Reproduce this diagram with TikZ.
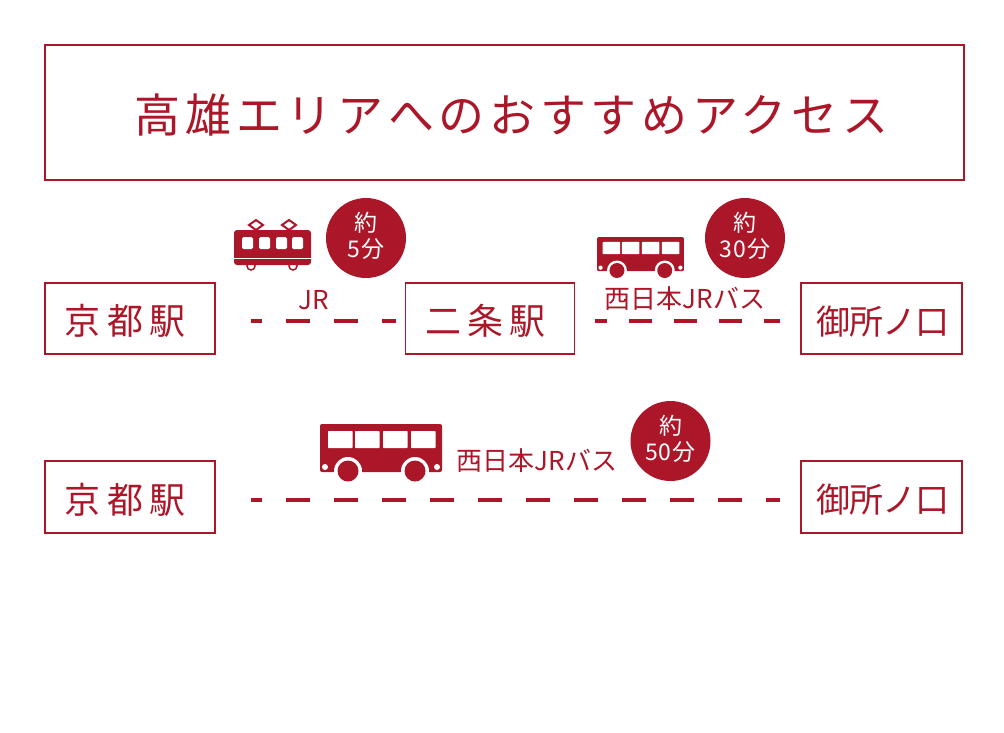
\documentclass[tikz,border=0pt]{standalone}
\usepackage{fontspec}
\setmainfont{Noto Sans CJK JP}
\newfontfamily\titlefont[LetterSpace=10.2]{Noto Sans CJK JP}
\newfontfamily\stationfont[LetterSpace=18]{Noto Sans CJK JP}
\newfontfamily\tightfont[LetterSpace=-3]{Noto Sans CJK JP}
\newfontfamily\badgefont[LetterSpace=5]{Noto Sans CJK JP}
\definecolor{routered}{HTML}{AB1728}
\newcommand{\nudged}[3]{\kern#1\rule{0pt}{#2}#3}
\newcommand{\lowstrut}{\rule[-7pt]{0pt}{7pt}}
\tikzset{
	framebox/.style={draw=routered, line width=1.6pt, text=routered, inner sep=0pt, minimum height=71.5pt, font=\stationfont\fontsize{36}{40}\selectfont},
	timebadge/.style={circle, fill=routered, text=white, inner sep=0pt, minimum size=80pt, align=center, font=\badgefont\fontsize{23}{26}\selectfont},
	linelabel/.style={text=routered, inner sep=0pt, font=\fontsize{26}{30}\selectfont},
	routeline/.style={draw=routered, line width=4pt, dash pattern=on 24pt off 24pt},
	bus/.pic={
		\fill[routered, rounded corners=2pt] (0,0) rectangle (122,48);
		\foreach \x in {8,35,63,91}
		{
			\fill[white, rounded corners=0.6pt] (\x,7) rectangle (\x+24.5,24);
		}
		\fill[white] (28,47) circle (14) (95,47) circle (14);
		\fill[routered] (28,47) circle (10.5) (95,47) circle (10.5);
		\fill[white] (5,43) circle (3) (117,43) circle (3);
	},
	train/.pic={
		\foreach \x in {17,59}
		{
			\draw[routered, line width=1.5pt, fill=white] (\x,36) circle (4);
		}
		\foreach \x in {22,55}
		{
			\draw[routered, line width=2pt, fill=white] (\x-7,-5) -- (\x,-10) -- (\x+7,-5) -- (\x,0) -- cycle;
		}
		\fill[routered, rounded corners=3pt] (0,0) rectangle (77,35);
		\fill[white] (0,27.5) rectangle (77,29);
		\foreach \x in {8,25,42,58}
		{
			\fill[white, rounded corners=1.5pt] (\x,7) rectangle (\x+11,19);
		}
	}
}
\begin{document}
\begin{tikzpicture}[x=1pt, y=-1pt]
	\useasboundingbox (0,0) rectangle (1004,732);
	\node[framebox, font=\titlefont\fontsize{46}{50}\selectfont, minimum width=919.5pt, minimum height=135.5pt] (title) at (504.5,112.5) {\nudged{14pt}{44pt}{高雄エリアへのおすすめアクセス}};

	% upper route
	\node[framebox, minimum width=170.5pt] (kyotoA) at (130,318.5) {\nudged{-10pt}{36pt}{京都駅}};
	\node[framebox, minimum width=169pt] (nijo) at (490,318.5) {\nudged{-9pt}{36pt}{二条駅}};
	\node[framebox, font=\tightfont\fontsize{34}{40}\selectfont, minimum width=161.5pt] (goshoA) at (881.5,318.5) {\nudged{3pt}{34pt}{御所ノ口}};
	\coordinate (upper) at (0,321);
	\draw[routeline, dash phase=13pt, shorten <=35pt, shorten >=9pt] (kyotoA.east |- upper) -- (nijo.west |- upper);
	\draw[routeline, dash pattern=on 23pt off 22pt, dash phase=11pt, shorten <=20pt, shorten >=20pt] (nijo.east |- upper) -- (goshoA.west |- upper);
	\node[linelabel] (jr) at (314,300) {JR};
	\node[linelabel] (busA) at (685,299) {西日本JRバス};
	\node[timebadge] (timeA) at (366,238) {約\\5分\lowstrut};
	\node[timebadge] (timeB) at (745,238) {約\\30分\lowstrut};
	\pic at (234,230) {train};
	\pic[scale=0.713] at (597,237) {bus};

	% lower route
	\node[framebox, minimum width=170.5pt] (kyotoB) at (130,497) {\nudged{-10pt}{36pt}{京都駅}};
	\node[framebox, font=\tightfont\fontsize{34}{40}\selectfont, minimum width=161.5pt] (goshoB) at (881.5,497) {\nudged{3pt}{34pt}{御所ノ口}};
	\coordinate (lower) at (0,500);
	\draw[routeline, dash phase=13pt, shorten <=35pt, shorten >=20pt] (kyotoB.east |- lower) -- (goshoB.west |- lower);
	\node[linelabel] (busB) at (537,461) {西日本JRバス};
	\node[timebadge] (timeC) at (670.5,441) {約\\50分\lowstrut};
	\pic at (320,424) {bus};
\end{tikzpicture}
\end{document}
